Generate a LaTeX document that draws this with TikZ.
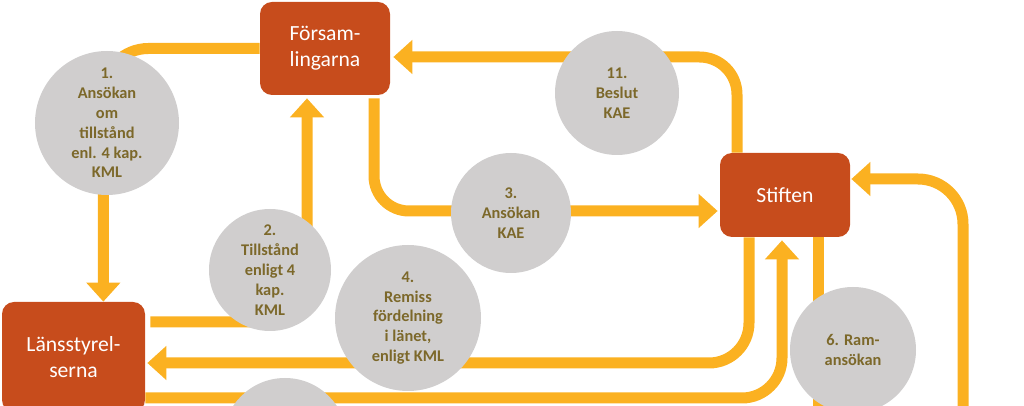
\documentclass[tikz,border=0pt]{standalone}
\usepackage{fontspec}
\setmainfont{Carlito}
\usepackage{xcolor}
\usepackage{tikz}
\usetikzlibrary{arrows.meta}
\definecolor{rost}{RGB}{199,76,28}
\definecolor{guld}{RGB}{251,177,33}
\definecolor{grau}{RGB}{208,206,206}
\definecolor{oliv}{RGB}{124,104,42}
\tikzset{
  org/.style={fill=rost,rounded corners=0.24cm,text=white,align=center,inner sep=0pt,font=\fontsize{12.3}{14.8}\selectfont},
  stp/.style={circle,fill=grau,text=oliv,align=center,inner sep=0pt,font=\fontsize{9.3}{11.3}\selectfont\bfseries},
  fl/.style={draw=guld,line width=0.22cm},
  fla/.style={fl,-{Triangle[width=0.66cm,length=0.38cm]}}
}

\begin{document}
\begin{tikzpicture}
\useasboundingbox (0,0) rectangle (20.48,-8.12);
\clip (0,0) rectangle (20.48,-8.12);
\node[org,minimum width=2.6cm,minimum height=1.86cm] (fors) at (6.5,-0.97) {Försam-\\lingarna};
\node[org,minimum width=2.6cm,minimum height=1.68cm] (stif) at (15.7,-3.9) {Stiften};
\node[org,minimum width=2.86cm,minimum height=2.2cm] (lans) at (1.47,-7.14) {Länsstyrel-\\serna};
\coordinate (s6) at (16.36,-8.6); \coordinate (s7) at (19.26,-8.6);
\draw[fla,rounded corners=0.9cm] (fors.west) -| ([xshift=-0.84cm]lans.north east);
\draw[fla,rounded corners=0.6cm] ([shift={(0.1,0.7)}]lans.east) -| ([shift={(-0.36,-0.06)}]fors.south);
\draw[fla,rounded corners=0.7cm] ([shift={(0.98,-0.06)}]fors.south) |- ([shift={(-0.04,-0.32)}]stif.west);
\draw[fla,rounded corners=0.8cm] ([xshift=-0.72cm]stif.south) |- ([shift={(0.04,-0.12)}]lans.east);
\draw[fla,rounded corners=0.8cm] ([yshift=-0.82cm]lans.east) -| ([shift={(-0.06,-0.06)}]stif.south);
\draw[fl] ([xshift=0.66cm]stif.south) -- (s6);
\draw[fla,rounded corners=0.9cm] (s7) |- ([shift={(0.02,0.32)}]stif.east);
\draw[fla,rounded corners=0.75cm] ([xshift=-0.96cm]stif.north) |- ([shift={(0.06,-0.17)}]fors.east);
\node[stp,minimum size=2.88cm] (c1) at (2.14,-2.46) {1.\\Ansökan\\om\\tillstånd\\enl. 4 kap.\\KML};
\node[stp,minimum size=2.44cm] (c2) at (5.4,-5.4) {2.\\Tillstånd\\enligt 4\\kap.\\KML};
\node[stp,minimum size=2.4cm] (c3) at (10.22,-4.26) {3.\\Ansökan\\KAE};
\node[stp,minimum size=2.92cm] (c4) at (8.16,-6.36) {4.\\Remiss\\fördelning\\i länet,\\enligt KML};
\node[stp,minimum size=2.48cm] (c5) at (5.7,-8.8) {};
\node[stp,minimum size=2.52cm] (c6) at (17.06,-7.0) {6. Ram-\\ansökan};
\node[stp,minimum size=2.48cm] (c11) at (12.34,-1.86) {11.\\Beslut\\KAE};
\end{tikzpicture}
\end{document}
